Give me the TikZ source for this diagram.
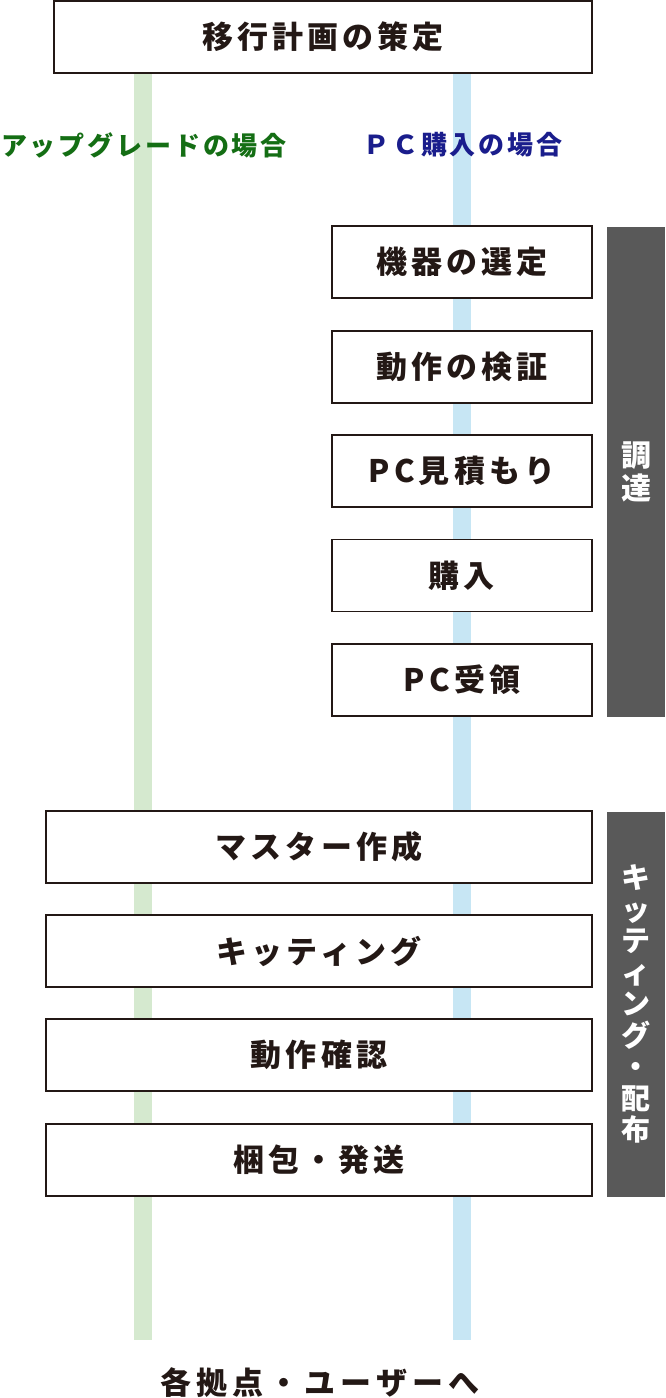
\documentclass[tikz,border=0pt]{standalone}
\usepackage{fontspec}
\newfontfamily\jp[LetterSpace=13]{Noto Sans CJK JP}
\newfontfamily\jpw[LetterSpace=16]{Noto Sans CJK JP}
\newfontfamily\jps[LetterSpace=11]{Noto Sans CJK JP}
\newfontfamily\jpv{Noto Sans CJK JP}
\definecolor{ink}{HTML}{231815}
\definecolor{lgreen}{HTML}{D5E9CF}
\definecolor{lblue}{HTML}{C7E6F4}
\definecolor{dgreen}{HTML}{146E14}
\definecolor{dblue}{HTML}{1A1D8C}
\definecolor{bar}{HTML}{595959}
\tikzset{
  stepbox/.style={draw=ink, line width=1.4pt, fill=white, minimum height=72pt, inner sep=0pt, text=ink,
    font=\jp\bfseries\fontsize{31}{34}\selectfont},
  pcbox/.style={stepbox, minimum width=260pt},
  widebox/.style={stepbox, minimum width=546pt},
  sidebar/.style={fill=bar, draw=none, minimum width=58pt, inner sep=0pt, text=white, align=center},
  caselabel/.style={font=\jps\bfseries\fontsize{26}{30}\selectfont, inner sep=0pt},
}
\begin{document}
\begin{tikzpicture}[x=1pt,y=-1pt]
\useasboundingbox (0,0) rectangle (665,1398);
% lanes
\fill[lgreen] (134,73) rectangle (152,1340);
\fill[lblue] (453,73) rectangle (471,1340);
% top
\node[stepbox, minimum width=538pt] (plan) at (323,37) {移行計画の策定};
\node[caselabel, text=dgreen] (upg) at (144,145) {アップグレードの場合};
\node[caselabel, text=dblue] (buy) at (463,145) {ＰＣ購入の場合};
% PC purchase
\node[pcbox] (sel) at (462,262) {機器の選定};
\node[pcbox] (ver) at (462,367) {動作の検証};
\node[pcbox] (est) at (462,471) {PC見積もり};
\node[pcbox] (pur) at (462,575.5) {購入};
\node[pcbox] (rec) at (462,680) {PC受領};
% kitting
\node[widebox] (mst) at (319,847) {マスター作成};
\node[widebox] (kit) at (319,951) {キッティング};
\node[widebox] (chk) at (319,1055) {動作確認};
\node[widebox] (pck) at (319,1160) {梱包・発送};
% side bars
\node[sidebar, minimum height=490pt, font=\jpv\bfseries\fontsize{30}{33}\selectfont] (proc) at (636,472) {調\\達};
\node[sidebar, minimum height=385pt, font=\jpv\bfseries\fontsize{29}{31.5}\selectfont] (dist) at (636,1004) {キ\\ッ\\テ\\ィ\\ン\\グ\\・\\配\\布};
% bottom
\node[font=\jpw\bfseries\fontsize{31}{34}\selectfont, text=ink, inner sep=0pt] (dest) at (320,1383) {各拠点・ユーザーへ};
\end{tikzpicture}
\end{document}
